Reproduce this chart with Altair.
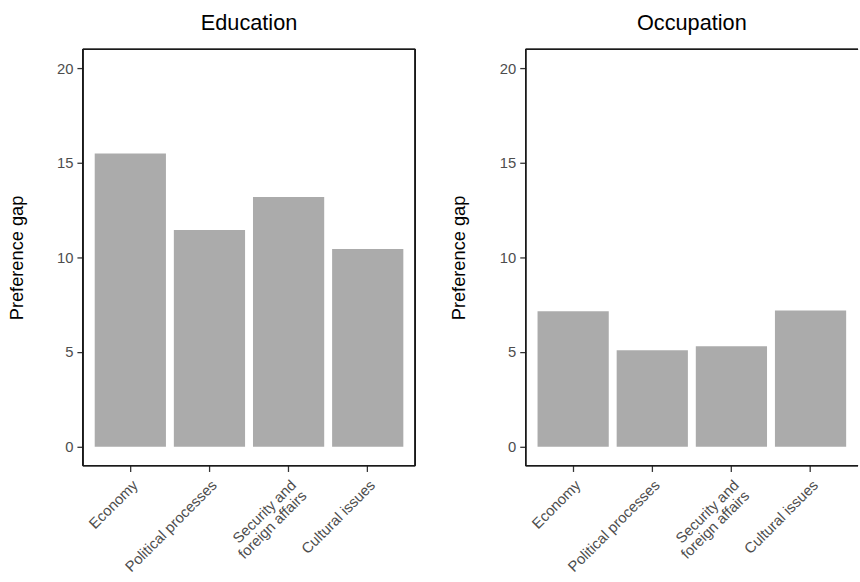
import altair as alt
import pandas as pd

# Issue areas and preference gaps by cleavage
categories = ["Economy", "Political processes", "Security and foreign affairs", "Cultural issues"]
education_gap = [15.5, 11.45, 13.2, 10.45]
occupation_gap = [7.15, 5.1, 5.3, 7.2]

FONT = "Liberation Sans"
BAR_COLOR = "#ababab"
FRAME = "#1a1a1a"
W, H = 337, 422

label_expr = (
    "datum.value == 'Security and foreign affairs' "
    "? ['Security and', 'foreign affairs'] : datum.value"
)


def frame(sides):
    """Panel border drawn as rules in pixel space, one per requested side."""
    specs = {
        "top": dict(x=alt.value(0), x2=alt.value(W), y=alt.value(0)),
        "bottom": dict(x=alt.value(0), x2=alt.value(W), y=alt.value(H)),
        "left": dict(x=alt.value(0), y=alt.value(0), y2=alt.value(H)),
        "right": dict(x=alt.value(W), y=alt.value(0), y2=alt.value(H)),
    }
    return [
        alt.Chart().mark_rule(color=FRAME, strokeWidth=1.3).encode(**specs[s])
        for s in sides
    ]


def panel(values, title, sides):
    df = pd.DataFrame({"issue": categories, "gap": values})
    bars = (
        alt.Chart(df)
        .mark_bar(color=BAR_COLOR)
        .encode(
            x=alt.X(
                "issue:N",
                sort=categories,
                title=None,
                scale=alt.Scale(paddingInner=0.1, paddingOuter=0.15),
                axis=alt.Axis(
                    labelAngle=315,
                    labelAlign="right",
                    labelBaseline="top",
                    labelExpr=label_expr,
                    labelLineHeight=15,
                    labelPadding=6,
                ),
            ),
            y=alt.Y(
                "gap:Q",
                title="Preference gap",
                scale=alt.Scale(domain=[-1, 21], nice=False, zero=False),
                axis=alt.Axis(values=[0, 5, 10, 15, 20], titlePadding=31),
            ),
        )
    )
    return alt.layer(
        bars,
        *frame(sides),
        data=df,
        title=alt.TitleParams(title, fontSize=22, font=FONT, fontWeight="normal",
                              color="black", offset=14, anchor="middle"),
    ).properties(width=W, height=H)


chart = (
    alt.hconcat(
        panel(education_gap, "Education", ["top", "bottom", "left", "right"]),
        panel(occupation_gap, "Occupation", ["top", "bottom", "left"]),
        spacing=32,
    )
    .properties(padding={"left": 6, "top": 7, "right": 0, "bottom": 0}, background="white")
    .configure_view(stroke="transparent")
    .configure_axis(
        domain=False,
        grid=False,
        ticks=True,
        tickColor="#333333",
        tickSize=6,
        tickWidth=1.3,
        labelFont=FONT,
        labelFontSize=15,
        labelColor="#4d4d4d",
        labelPadding=4,
        titleFont=FONT,
        titleFontSize=18.5,
        titleFontWeight="normal",
        titleColor="black",
    )
)

chart.save("out.html", embed_options={"renderer": "svg", "actions": False})
